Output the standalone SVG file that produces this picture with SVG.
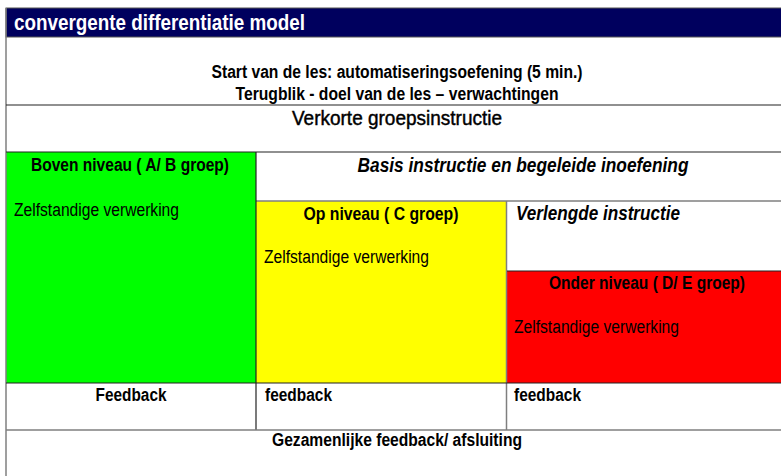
<svg xmlns="http://www.w3.org/2000/svg" width="781" height="476" viewBox="0 0 781 476">
<style>
text{font-family:"Liberation Sans",Arial,sans-serif;fill:#000}
.b{font-weight:bold}
.bi{font-weight:bold;font-style:italic}
.c{text-anchor:middle}
.ln{stroke:#222;stroke-width:1.2;fill:none}
.gl{stroke:#7f7f7f;stroke-width:1.5;fill:none}
</style>
<rect x="0" y="0" width="781" height="476" fill="#fff"/>
<g id="header">
<rect x="6" y="8" width="776" height="29" fill="#00005e" stroke="#555" stroke-width="1"/>
<text x="14" y="30" class="b" font-size="22" style="fill:#fff" textLength="291" lengthAdjust="spacingAndGlyphs">convergente differentiatie model</text>
</g>
<g id="intro">
<text x="397" y="78" class="b c" font-size="18" textLength="371" lengthAdjust="spacingAndGlyphs">Start van de les: automatiseringsoefening (5 min.)</text>
<text x="397" y="100" class="b c" font-size="18" textLength="323" lengthAdjust="spacingAndGlyphs">Terugblik - doel van de les – verwachtingen</text>
</g>
<g id="verkorte">
<text x="397" y="125" class="c" font-size="21" textLength="210" lengthAdjust="spacingAndGlyphs" stroke="#000" stroke-width="0.45">Verkorte groepsinstructie</text>
</g>
<g id="boven">
<rect x="6" y="152" width="250" height="231" fill="#00ff00"/>
<text x="130" y="171" class="b c" font-size="18" textLength="198" lengthAdjust="spacingAndGlyphs">Boven niveau ( A/ B groep)</text>
<text x="14" y="216" font-size="18" textLength="165" lengthAdjust="spacingAndGlyphs">Zelfstandige verwerking</text>
</g>
<g id="basis">
<text x="523" y="172" class="bi c" font-size="21" textLength="331" lengthAdjust="spacingAndGlyphs">Basis instructie en begeleide inoefening</text>
</g>
<g id="op">
<rect x="256" y="201" width="250" height="182" fill="#ffff00"/>
<text x="381" y="220" class="b c" font-size="18" textLength="155" lengthAdjust="spacingAndGlyphs">Op niveau ( C groep)</text>
<text x="264" y="263" font-size="18" textLength="165" lengthAdjust="spacingAndGlyphs">Zelfstandige verwerking</text>
</g>
<g id="verlengde">
<text x="516" y="220" class="bi" font-size="21" textLength="164" lengthAdjust="spacingAndGlyphs">Verlengde instructie</text>
</g>
<g id="onder">
<rect x="507" y="271" width="275" height="112" fill="#ff0000"/>
<text x="647" y="289" class="b c" font-size="18" textLength="196" lengthAdjust="spacingAndGlyphs">Onder niveau ( D/ E groep)</text>
<text x="514" y="333" font-size="18" textLength="165" lengthAdjust="spacingAndGlyphs">Zelfstandige verwerking</text>
</g>
<g id="feedback">
<text x="131" y="401" class="b c" font-size="18" textLength="71" lengthAdjust="spacingAndGlyphs">Feedback</text>
<text x="265" y="401" class="b" font-size="18" textLength="67" lengthAdjust="spacingAndGlyphs">feedback</text>
<text x="514" y="401" class="b" font-size="18" textLength="67" lengthAdjust="spacingAndGlyphs">feedback</text>
</g>
<g id="afsluiting">
<text x="397" y="446" class="b c" font-size="18" textLength="250" lengthAdjust="spacingAndGlyphs">Gezamenlijke feedback/ afsluiting</text>
</g>
<g id="connectors">
<line class="gl" x1="6" y1="8" x2="6" y2="476"/>
<line class="ln" x1="6" y1="105" x2="781" y2="105"/>
<line class="ln" x1="6" y1="152" x2="781" y2="152"/>
<line class="gl" x1="256" y1="201" x2="781" y2="201"/>
<line class="ln" x1="256" y1="152" x2="256" y2="430"/>
<line class="gl" x1="506.5" y1="201" x2="506.5" y2="430"/>
<line class="ln" x1="507" y1="271" x2="781" y2="271"/>
<line class="ln" x1="6" y1="383" x2="781" y2="383"/>
<line class="gl" x1="6" y1="430" x2="781" y2="430"/>
</g>
</svg>
